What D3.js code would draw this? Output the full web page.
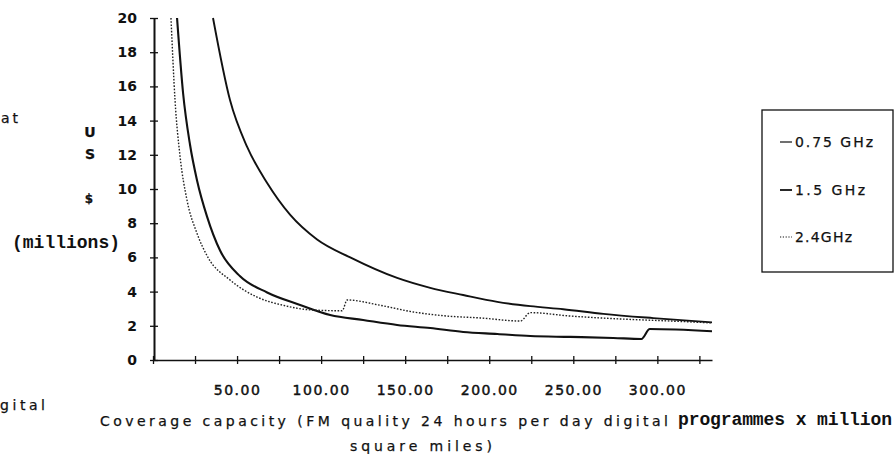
<!DOCTYPE html>
<html>
<head>
<meta charset="utf-8">
<script src="https://cdn.jsdelivr.net/npm/d3@7/dist/d3.min.js"></script>
<style>
  html, body { margin: 0; padding: 0; background: #fff; }
  svg { display: block; }
  .lbl { font-family: "DejaVu Sans", sans-serif; fill: #111; stroke: #111; stroke-width: 0.25px; }
  .mono { font-family: "Liberation Mono", "DejaVu Sans Mono", monospace; font-weight: bold; fill: #111; }
</style>
</head>
<body>
<svg id="chart" width="895" height="454"></svg>
<script>
// ---- Data ----
const seriesNames = ["0.75 GHz", "1.5 GHz", "2.4GHz"];

const x075 = [35.7, 45.8, 56.0, 67.9, 81.5, 97.6, 117.3, 145.2, 164.9, 184.5, 204.8, 224.4, 244.0, 267.9, 297.6, 332.5];
const y075 = [20.0, 15.2, 12.46, 10.35, 8.5, 7.05, 6.0, 4.8, 4.22, 3.8, 3.4, 3.15, 2.97, 2.7, 2.45, 2.2];

const x15 = [14.3, 17.9, 22.0, 26.2, 32.1, 39.9, 51.8, 67.9, 87.5, 105.4, 125.0, 145.2, 164.9, 184.5, 204.8, 224.4, 248.2, 273.8, 290.5, 295.5, 332.5];
const y15 = [20.0, 15.6, 12.6, 10.5, 8.4, 6.4, 4.9, 3.95, 3.22, 2.63, 2.34, 2.05, 1.87, 1.64, 1.52, 1.40, 1.35, 1.29, 1.23, 1.81, 1.68];

const x24 = [10.7, 13.1, 16.1, 20.2, 26.2, 32.7, 45.8, 61.9, 77.4, 95.2, 112.5, 115.5, 135.1, 154.8, 175.0, 194.6, 218.5, 224.4, 248.2, 278.0, 307.7, 332.5];
const y24 = [20.0, 15.2, 11.9, 9.36, 7.4, 6.0, 4.68, 3.68, 3.2, 2.92, 2.88, 3.51, 3.2, 2.81, 2.57, 2.46, 2.28, 2.77, 2.57, 2.4, 2.28, 2.17];

const yTickValues = [0, 2, 4, 6, 8, 10, 12, 14, 16, 18, 20];
const xTickValues = [0, 25, 50, 75, 100, 125, 150, 175, 200, 225, 250, 275, 300, 325];
const xLabelValues = [50, 100, 150, 200, 250, 300];
const xLabelTexts = ["50.00", "100.00", "150.00", "200.00", "250.00", "300.00"];

// ---- Chart ----
const svg = d3.select("#chart");
svg.append("rect").attr("width", 895).attr("height", 454).attr("fill", "#fff");

const x = d3.scaleLinear().domain([0, 332.5]).range([153, 712]);
const y = d3.scaleLinear().domain([0, 20]).range([360, 18]);

// Y axis
const yAxis = svg.append("g").attr("transform", "translate(154,0)")
  .call(d3.axisLeft(y).tickValues(yTickValues).tickSize(4).tickSizeOuter(0).tickPadding(13)
    .tickFormat(d => d));
yAxis.select(".domain").attr("stroke", "#111").attr("stroke-width", 2);
yAxis.selectAll(".tick line").attr("x1", 4).attr("stroke", "#111").attr("stroke-width", 1.3);
yAxis.selectAll(".tick text")
  .attr("font-family", "DejaVu Sans, sans-serif").attr("font-weight", "bold")
  .attr("font-size", 14).attr("fill", "#111");

// X axis
const labelMap = new Map(xLabelValues.map((v, i) => [v, xLabelTexts[i]]));
const xAxis = svg.append("g").attr("transform", "translate(0,360)")
  .call(d3.axisBottom(x).tickValues(xTickValues).tickSize(4).tickSizeOuter(0).tickPadding(21)
    .tickFormat(d => labelMap.get(d) || ""));
xAxis.select(".domain").attr("stroke", "#111").attr("stroke-width", 1.6);
xAxis.selectAll(".tick line").attr("y1", -4).attr("stroke", "#111").attr("stroke-width", 1.3);
xAxis.selectAll(".tick text")
  .attr("font-family", "DejaVu Sans, sans-serif")
  .attr("font-size", 14).attr("fill", "#111")
  .attr("stroke", "#111").attr("stroke-width", 0.45)
  .attr("letter-spacing", "1.5px");

// Lines
const line = d3.line().x(d => x(d[0])).y(d => y(d[1])).curve(d3.curveMonotoneX);
const s075 = x075.map((v, i) => [v, y075[i]]);
const s15 = x15.map((v, i) => [v, y15[i]]);
const s24 = x24.map((v, i) => [v, y24[i]]);

svg.append("path").datum(s075).attr("d", line)
  .attr("fill", "none").attr("stroke", "#111").attr("stroke-width", 1.9);
svg.append("path").datum(s15).attr("d", line)
  .attr("fill", "none").attr("stroke", "#111").attr("stroke-width", 2.1);
svg.append("path").datum(s24).attr("d", line)
  .attr("fill", "none").attr("stroke", "#222").attr("stroke-width", 1.4)
  .attr("stroke-dasharray", "1.6,1.6");

// Text helper
function txt(t, xx, yy, opts) {
  const o = Object.assign({ size: 13, cls: "lbl", weight: "normal", anchor: "start" }, opts || {});
  const el = svg.append("text").attr("class", o.cls).attr("x", xx).attr("y", yy)
    .attr("font-size", o.size).attr("font-weight", o.weight)
    .attr("text-anchor", o.anchor).text(t);
  if (o.len) el.attr("textLength", o.len).attr("lengthAdjust", "spacing");
  return el;
}
// Y axis title fragments
txt("at", 1, 123, { size: 14, len: 17 });
txt("U", 90, 137, { size: 14, weight: "bold", anchor: "middle" });
txt("S", 90, 159, { size: 14, weight: "bold", anchor: "middle" });
txt("$", 89, 203, { size: 12, weight: "bold", anchor: "middle" });
txt("(millions)", 12, 248, { size: 18, cls: "mono", len: 108 });
txt("gital", 0, 410, { size: 14, len: 45 });

// X axis title
txt("Coverage capacity (FM quality 24 hours per day digital", 100, 426, { size: 14, len: 568 });
txt("programmes x million", 678, 425, { size: 18, cls: "mono", len: 214 });
txt("square miles)", 350, 451, { size: 14, len: 142 });

// Legend
svg.append("rect").attr("x", 762).attr("y", 110).attr("width", 131).attr("height", 162)
  .attr("fill", "none").attr("stroke", "#111").attr("stroke-width", 1.3);
const legY = [142, 190, 237];
const legLen = [78, 70, 57];
const legDash = [null, null, "1.2,1.6"];
const legW = [1.2, 1.8, 1.1];
seriesNames.forEach((n, i) => {
  svg.append("line").attr("x1", 780).attr("x2", 792).attr("y1", legY[i]).attr("y2", legY[i])
    .attr("stroke", "#111").attr("stroke-width", legW[i])
    .attr("stroke-dasharray", legDash[i]);
  txt(n, 795, legY[i] + 5, { size: 14, len: legLen[i] });
});
</script>
</body>
</html>
